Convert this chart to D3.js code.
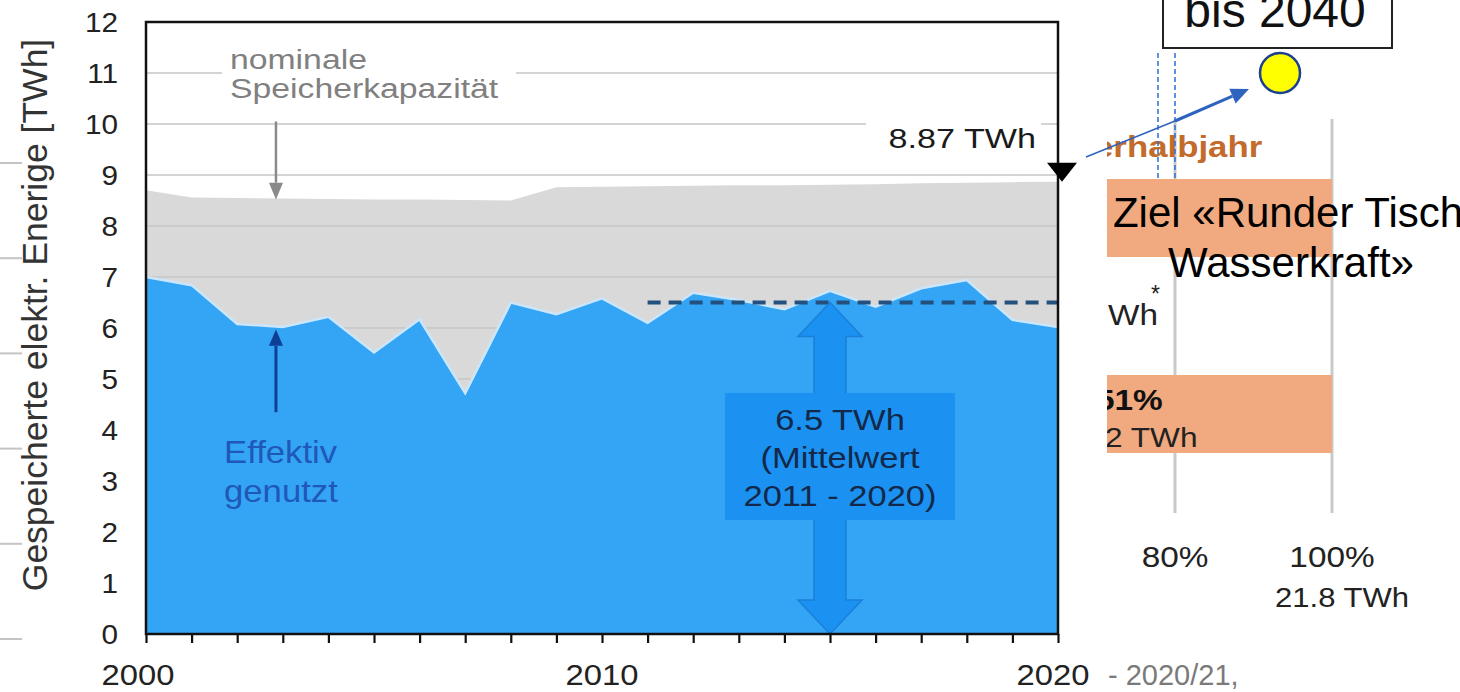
<!DOCTYPE html>
<html><head><meta charset="utf-8">
<script src="https://cdn.jsdelivr.net/npm/d3@7"></script>
<style>html,body{margin:0;padding:0;background:#fff;overflow:hidden}</style>
</head><body>
<svg id="chart" width="1460" height="692"></svg>
<script>
// Stored electrical energy in Swiss reservoirs, 2000–2020 (TWh)
const years = d3.range(2000, 2021);
const nominalCapacity = [8.70, 8.56, 8.55, 8.54, 8.53, 8.52, 8.52, 8.51, 8.50, 8.76, 8.77,
                         8.78, 8.79, 8.80, 8.80, 8.81, 8.82, 8.84, 8.85, 8.86, 8.87];
const usedStorage = [7.00, 6.84, 6.08, 6.02, 6.22, 5.52, 6.17, 4.72, 6.50, 6.27, 6.58,
                     6.10, 6.69, 6.55, 6.37, 6.73, 6.42, 6.78, 6.94, 6.16, 6.02];
const yTicks = d3.range(0, 13);
const xTickLabels = [2000, 2010, 2020];
const meanValue = 6.5;
const meanYears = [2011, 2020];
const capacity2020 = 8.87;
const meanLines = ["6.5 TWh", "(Mittelwert", "2011 - 2020)"];

// Share panel (percent of 21.8 TWh)
const shareTicks = [80, 100];
const shareBars = [100, 100];

const svg = d3.select("#chart").style("font-family", "'Liberation Sans', Arial, sans-serif");
svg.append("rect").attr("width", 1460).attr("height", 692).attr("fill", "#fff");

const x = d3.scaleLinear().domain([2000, 2020]).range([146, 1058]);
const y = d3.scaleLinear().domain([0, 12]).range([634, 22]);

function stext(sel, px, py, str, o) {
  return sel.append("text")
    .attr("transform", `translate(${px},${py}) scale(${o.sx || 1},1)`)
    .attr("font-size", o.size)
    .attr("font-weight", o.weight || "normal")
    .attr("fill", o.fill || "#222")
    .attr("text-anchor", o.anchor || "start")
    .text(str);
}

// faint dashes at far left
const leftDash = d3.scaleLinear().domain([0, 5]).range([163, 639]);
svg.append("g").selectAll("line").data(d3.range(6)).join("line")
  .attr("x1", 0).attr("x2", 22)
  .attr("y1", d => leftDash(d)).attr("y2", d => leftDash(d))
  .attr("stroke", "#c4c4c4").attr("stroke-width", 2);

// nominal capacity (grey)
svg.append("path")
  .attr("d", d3.area().x(d => x(d)).y0(y(0)).y1((d, i) => y(nominalCapacity[i]))(years))
  .attr("fill", "#d9d9d9");

// gridlines
svg.append("g").selectAll("line").data(yTicks.filter(v => v > 0 && v < 12)).join("line")
  .attr("x1", x(2000)).attr("x2", x(2020))
  .attr("y1", d => y(d)).attr("y2", d => y(d))
  .attr("stroke", "#c6c6c6").attr("stroke-width", 1.6);

// effectively used storage (blue)
svg.append("path")
  .attr("d", d3.area().x(d => x(d)).y0(y(0)).y1((d, i) => y(usedStorage[i]))(years))
  .attr("fill", "#34a4f4");
svg.append("path")
  .attr("d", d3.line().x(d => x(d)).y((d, i) => y(usedStorage[i]))(years))
  .attr("fill", "none").attr("stroke", "#cbe6fa").attr("stroke-width", 2.5);

// mean line
svg.append("line")
  .attr("x1", x(meanYears[0])).attr("x2", x(meanYears[1]))
  .attr("y1", y(meanValue)).attr("y2", y(meanValue))
  .attr("stroke", "#23507c").attr("stroke-width", 4).attr("stroke-dasharray", "13,8");

// double-headed arrow for the mean
const acx = x(2015), aTop = y(meanValue), aBot = y(0), hh = 34, hw = 32, sw = 16;
const arrowPts = [[acx, aTop], [acx + hw, aTop + hh], [acx + sw, aTop + hh], [acx + sw, aBot - hh], [acx + hw, aBot - hh],
  [acx, aBot], [acx - hw, aBot - hh], [acx - sw, aBot - hh], [acx - sw, aTop + hh], [acx - hw, aTop + hh]];
svg.append("path").attr("d", d3.line()(arrowPts) + "Z")
  .attr("fill", "#1b92f1").attr("stroke", "#1a7fd8").attr("stroke-width", 1.5);
svg.append("rect").attr("x", 725).attr("y", 393).attr("width", 230).attr("height", 127).attr("fill", "#1b92f1");
meanLines.forEach((t, i) => stext(svg, 840, 430 + i * 38, t, { size: 30, sx: 1.15, anchor: "middle", fill: "#14294a" }));

// label boxes covering gridlines
svg.append("rect").attr("x", 222).attr("y", 38).attr("width", 294).attr("height", 76).attr("fill", "#fff");
svg.append("rect").attr("x", 866).attr("y", 118).attr("width", 175).attr("height", 40).attr("fill", "#fff");

// annotations
stext(svg, 230, 69, "nominale", { size: 27, sx: 1.25, fill: "#808080" });
stext(svg, 230, 98, "Speicherkapazität", { size: 27, sx: 1.25, fill: "#808080" });
const ax = x(2002.85);
svg.append("line").attr("x1", ax).attr("x2", ax).attr("y1", y(10.05)).attr("y2", y(8.85))
  .attr("stroke", "#8a8a8a").attr("stroke-width", 2.5);
svg.append("path").attr("d", d3.line()([[ax - 7, y(8.85)], [ax + 7, y(8.85)], [ax, y(8.52)]]) + "Z").attr("fill", "#8a8a8a");

svg.append("line").attr("x1", ax).attr("x2", ax).attr("y1", y(4.35)).attr("y2", y(5.65))
  .attr("stroke", "#0d3f96").attr("stroke-width", 3);
svg.append("path").attr("d", d3.line()([[ax - 7, y(5.65)], [ax + 7, y(5.65)], [ax, y(5.97)]]) + "Z").attr("fill", "#0d3f96");
stext(svg, 224, 463, "Effektiv", { size: 31, sx: 1.12, fill: "#2058b8" });
stext(svg, 224, 502, "genutzt", { size: 31, sx: 1.12, fill: "#2058b8" });

stext(svg, 1036, 148, `${capacity2020} TWh`, { size: 28, sx: 1.22, anchor: "end", fill: "#1a1a1a" });

// frame and axes
svg.append("rect").attr("x", x(2000)).attr("y", y(12)).attr("width", x(2020) - x(2000)).attr("height", y(0) - y(12))
  .attr("fill", "none").attr("stroke", "#111").attr("stroke-width", 2.5);

const xAxis = svg.append("g").attr("transform", `translate(0,${y(0)})`)
  .call(d3.axisBottom(x).tickValues(years).tickSize(9).tickFormat(""));
xAxis.select(".domain").remove();
xAxis.selectAll(".tick line").attr("stroke", "#111").attr("stroke-width", 2.2);
svg.append("g").selectAll("text").data(xTickLabels).join("text")
  .attr("transform", d => `translate(${x(d) - (d === 2000 ? 8 : d === 2020 ? 5 : 0)},685) scale(1.13,1)`)
  .attr("text-anchor", "middle").attr("font-size", 29).attr("fill", "#222").text(d => d);
stext(svg, 1108, 685, "- 2020/21,", { size: 29, fill: "#7a7a7a" });

svg.append("g").selectAll("text").data(yTicks).join("text")
  .attr("transform", d => `translate(118,${y(d)}) scale(1.1,1)`)
  .attr("dy", "0.36em").attr("text-anchor", "end").attr("font-size", 27).attr("fill", "#222").text(d => d);

svg.append("text").attr("transform", "translate(47,315) rotate(-90)")
  .attr("text-anchor", "middle").attr("font-size", 35.5).attr("fill", "#333")
  .text("Gespeicherte elektr. Enerige [TWh]");

// capacity marker at 2020
const mx = x(2020) + 4, my = y(capacity2020);
svg.append("path").attr("d", d3.line()([[mx - 15, my - 19], [mx + 15, my - 19], [mx, my]]) + "Z").attr("fill", "#000");

// share panel
const xp = d3.scaleLinear().domain([80, 100]).range([1175, 1332]);
const yp = d3.scalePoint().domain(d3.range(shareBars.length)).range([218, 414]);
svg.append("clipPath").attr("id", "panel").append("rect").attr("x", 1107).attr("y", 100).attr("width", 353).attr("height", 520);
const panel = svg.append("g").attr("clip-path", "url(#panel)");
panel.selectAll("line.grid").data(shareTicks).join("line").attr("class", "grid")
  .attr("x1", d => xp(d)).attr("x2", d => xp(d)).attr("y1", 119).attr("y2", 513)
  .attr("stroke", "#c9c9c9").attr("stroke-width", 3);
panel.selectAll("rect.bar").data(shareBars).join("rect").attr("class", "bar")
  .attr("x", xp(0)).attr("width", d => xp(d) - xp(0))
  .attr("y", (d, i) => yp(i) - 39).attr("height", 78).attr("fill", "#f1aa7f");
stext(panel, 1094, 157, "erhalbjahr", { size: 29, sx: 1.2, weight: "bold", fill: "#c26b2b" });
stext(panel, 1108, 325, "Wh", { size: 29, sx: 1.15, fill: "#222" });
stext(panel, 1151, 302, "*", { size: 23, fill: "#222" });
stext(panel, 1096, 410, "51%", { size: 29, sx: 1.15, weight: "bold", fill: "#111" });
stext(panel, 1105, 447, "2 TWh", { size: 28, sx: 1.13, fill: "#222" });
shareTicks.forEach(t => stext(svg, xp(t), 567, `${t}%`, { size: 29, sx: 1.15, anchor: "middle", fill: "#222" }));
stext(svg, 1342, 607, "21.8 TWh", { size: 27, sx: 1.15, anchor: "middle", fill: "#222" });

// target overlay
svg.append("rect").attr("x", 1163).attr("y", -10).attr("width", 229).attr("height", 58)
  .attr("fill", "#fff").attr("stroke", "#222").attr("stroke-width", 2);
stext(svg, 1275, 27, "bis 2040", { size: 48, anchor: "middle", fill: "#111" });
svg.append("circle").attr("cx", 1280).attr("cy", 73).attr("r", 20)
  .attr("fill", "#ffff00").attr("stroke", "#1f3f8f").attr("stroke-width", 2.5);
[1158, 1175].forEach(vx => svg.append("line").attr("x1", vx).attr("x2", vx).attr("y1", 53).attr("y2", 178)
  .attr("stroke", "#2a6fd6").attr("stroke-width", 1.5).attr("stroke-dasharray", "5,3"));
const p0 = [1086, 157], p1 = [1175, 121], tip = [1249, 89];
svg.append("line").attr("x1", p0[0]).attr("y1", p0[1]).attr("x2", p1[0]).attr("y2", p1[1])
  .attr("stroke", "#2f63c0").attr("stroke-width", 1.5);
const dx = tip[0] - p1[0], dy = tip[1] - p1[1], L = Math.hypot(dx, dy), ux = dx / L, uy = dy / L;
const base = [tip[0] - 18 * ux, tip[1] - 18 * uy];
svg.append("line").attr("x1", p1[0]).attr("y1", p1[1]).attr("x2", base[0]).attr("y2", base[1])
  .attr("stroke", "#2f63c0").attr("stroke-width", 3);
svg.append("path").attr("d", d3.line()([tip, [base[0] - 8 * uy, base[1] + 8 * ux], [base[0] + 8 * uy, base[1] - 8 * ux]]) + "Z")
  .attr("fill", "#2f63c0");
stext(svg, 1288, 227, "Ziel «Runder Tisch", { size: 42, anchor: "middle", fill: "#000" });
stext(svg, 1291, 277, "Wasserkraft»", { size: 42, anchor: "middle", fill: "#000" });
</script>
</body></html>
